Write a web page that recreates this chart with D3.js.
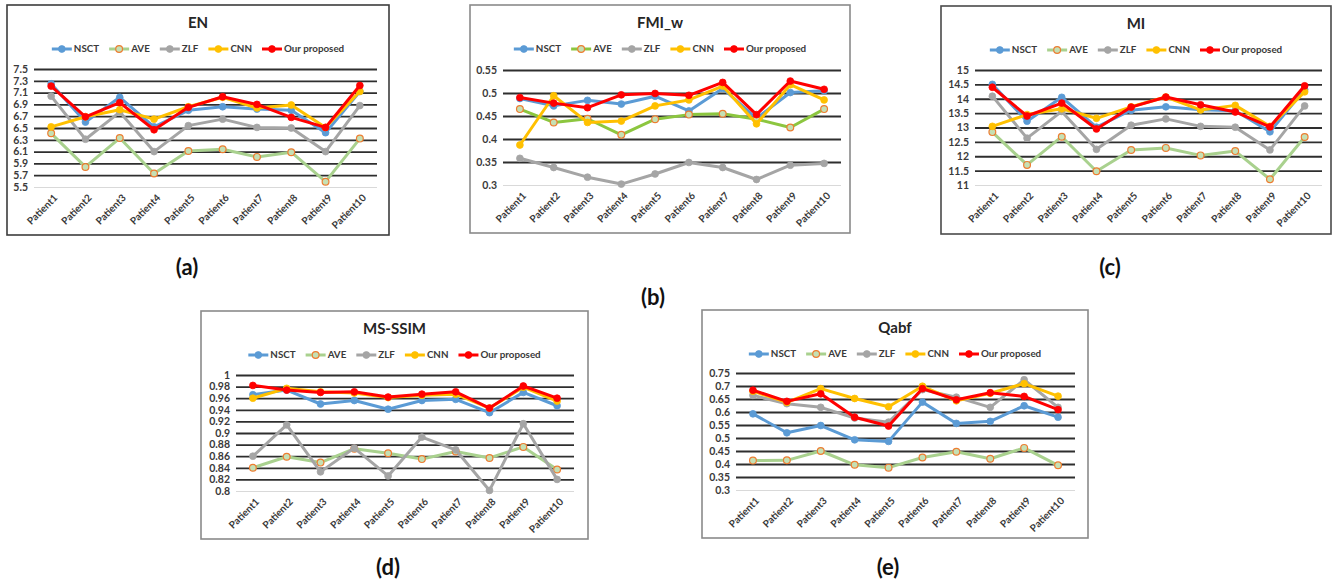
<!DOCTYPE html>
<html>
<head>
<meta charset="utf-8">
<script src="https://cdn.jsdelivr.net/npm/d3@7"></script>
<style>
  body { margin: 0; background: #fff; }
  svg text { font-family: Lato, "Open Sans", sans-serif; font-weight: 700; }
</style>
</head>
<body>
<svg id="chart" width="1339" height="583"></svg>
<script>
// categories and series names
var categories  = ["Patient1", "Patient2", "Patient3", "Patient4", "Patient5",
                   "Patient6", "Patient7", "Patient8", "Patient9", "Patient10"];
var seriesNames = ["NSCT", "AVE", "ZLF", "CNN", "Our proposed"];

// (a) EN
var enNSCT = [7.25, 6.60, 7.02, 6.52, 6.80, 6.86, 6.82, 6.80, 6.42, 7.12];
var enAVE  = [6.41, 5.84, 6.33, 5.73, 6.11, 6.14, 6.01, 6.09, 5.59, 6.32];
var enZLF  = [7.04, 6.31, 6.77, 6.10, 6.54, 6.65, 6.51, 6.50, 6.10, 6.88];
var enCNN  = [6.52, 6.69, 6.81, 6.65, 6.86, 7.02, 6.84, 6.89, 6.51, 7.12];
var enOurs = [7.21, 6.69, 6.93, 6.47, 6.85, 7.03, 6.90, 6.68, 6.51, 7.22];
var enTicks = [5.5, 5.7, 5.9, 6.1, 6.3, 6.5, 6.7, 6.9, 7.1, 7.3, 7.5];

// (b) FMI_w
var fmiNSCT = [0.488, 0.472, 0.484, 0.476, 0.493, 0.461, 0.510, 0.445, 0.501, 0.505];
var fmiAVE  = [0.465, 0.436, 0.444, 0.409, 0.443, 0.453, 0.455, 0.443, 0.425, 0.465];
var fmiZLF  = [0.358, 0.338, 0.317, 0.302, 0.324, 0.349, 0.338, 0.312, 0.343, 0.347];
var fmiCNN  = [0.387, 0.494, 0.436, 0.439, 0.472, 0.485, 0.515, 0.433, 0.518, 0.485];
var fmiOurs = [0.490, 0.478, 0.468, 0.496, 0.499, 0.495, 0.523, 0.453, 0.526, 0.508];
var fmiTicks = [0.3, 0.35, 0.4, 0.45, 0.5, 0.55];

// (c) MI
var miNSCT = [14.50, 13.22, 14.05, 13.01, 13.60, 13.72, 13.62, 13.58, 12.85, 14.32];
var miAVE  = [12.84, 11.70, 12.68, 11.48, 12.22, 12.29, 12.03, 12.18, 11.20, 12.67];
var miZLF  = [14.09, 12.63, 13.56, 12.24, 13.08, 13.30, 13.04, 13.01, 12.22, 13.75];
var miCNN  = [13.04, 13.45, 13.65, 13.32, 13.72, 14.06, 13.61, 13.77, 13.04, 14.24];
var miOurs = [14.40, 13.40, 13.85, 12.95, 13.71, 14.06, 13.79, 13.54, 13.02, 14.45];
var miTicks = [11, 11.5, 12, 12.5, 13, 13.5, 14, 14.5, 15];

// (d) MS-SSIM
var msNSCT = [0.966, 0.974, 0.950, 0.956, 0.941, 0.956, 0.958, 0.935, 0.970, 0.947];
var msAVE  = [0.840, 0.859, 0.849, 0.873, 0.865, 0.855, 0.868, 0.857, 0.876, 0.837];
var msZLF  = [0.860, 0.914, 0.833, 0.874, 0.826, 0.893, 0.871, 0.801, 0.916, 0.820];
var msCNN  = [0.960, 0.977, 0.971, 0.969, 0.961, 0.965, 0.967, 0.943, 0.979, 0.955];
var msOurs = [0.982, 0.974, 0.970, 0.971, 0.962, 0.967, 0.971, 0.943, 0.981, 0.960];
var msTicks = [0.8, 0.82, 0.84, 0.86, 0.88, 0.9, 0.92, 0.94, 0.96, 0.98, 1];

// (e) Qabf
var qNSCT = [0.593, 0.520, 0.548, 0.493, 0.487, 0.638, 0.556, 0.564, 0.624, 0.580];
var qAVE  = [0.413, 0.414, 0.450, 0.397, 0.386, 0.425, 0.447, 0.420, 0.462, 0.395];
var qZLF  = [0.664, 0.632, 0.618, 0.577, 0.561, 0.686, 0.657, 0.618, 0.724, 0.618];
var qCNN  = [0.680, 0.637, 0.690, 0.652, 0.620, 0.699, 0.643, 0.672, 0.709, 0.661];
var qOurs = [0.684, 0.641, 0.670, 0.580, 0.546, 0.690, 0.647, 0.674, 0.660, 0.609];
var qTicks = [0.3, 0.35, 0.4, 0.45, 0.5, 0.55, 0.6, 0.65, 0.7, 0.75];

// styles per series
var seriesStyle = {
  "NSCT":         {line: "#5B9BD5", fill: "#5B9BD5", ring: "#5B9BD5"},
  "AVE":          {line: "#A9D18E", fill: "#C5E0B4", ring: "#ED7D31"},
  "ZLF":          {line: "#A5A5A5", fill: "#A5A5A5", ring: "#A5A5A5"},
  "CNN":          {line: "#FFC000", fill: "#FFC000", ring: "#FFC000"},
  "Our proposed": {line: "#FF0000", fill: "#FF0000", ring: "#FF0000"}
};

// panel layout: box = [x0, y0, x1, y1], plot = [left, top, right, bottom]
var panels = [
  {title: "EN",      label: "(a)", series: [enNSCT, enAVE, enZLF, enCNN, enOurs],      ticks: enTicks,
   box: [7, 5, 389, 235],      plot: [34, 69, 377, 187],    labelPos: [187, 267], border: "#3c3c3c", aveLine: "#A9D18E"},
  {title: "FMI_w",   label: "(b)", series: [fmiNSCT, fmiAVE, fmiZLF, fmiCNN, fmiOurs], ticks: fmiTicks,
   box: [470, 5, 850, 233],    plot: [503, 70, 841, 185],   labelPos: [653, 297], border: "#8a8a8a", aveLine: "#8CC63F"},
  {title: "MI",      label: "(c)", series: [miNSCT, miAVE, miZLF, miCNN, miOurs],      ticks: miTicks,
   box: [941, 6, 1331, 234],   plot: [975, 70, 1322, 185],  labelPos: [1110, 267], border: "#4a4a4a", aveLine: "#A9D18E"},
  {title: "MS-SSIM", label: "(d)", series: [msNSCT, msAVE, msZLF, msCNN, msOurs],      ticks: msTicks,
   box: [201, 311, 588, 539],  plot: [236, 375, 574, 491],  labelPos: [388, 567], border: "#8a8a8a", aveLine: "#A9D18E"},
  {title: "Qabf",    label: "(e)", series: [qNSCT, qAVE, qZLF, qCNN, qOurs],           ticks: qTicks,
   box: [702, 310, 1088, 538], plot: [736, 373, 1075, 490], labelPos: [888, 567], border: "#8a8a8a", aveLine: "#A9D18E"}
];

var svg = d3.select("#chart");

function styleFor (name, panel) {
  var s = seriesStyle[name];
  if (name === "AVE") return {line: panel.aveLine, fill: s.fill, ring: s.ring};
  return s;
}

panels.forEach(function (p) {
  var g = svg.append("g");
  var left = p.plot[0], top = p.plot[1], right = p.plot[2], bottom = p.plot[3];

  g.append("rect")
    .attr("x", p.box[0]).attr("y", p.box[1])
    .attr("width", p.box[2] - p.box[0]).attr("height", p.box[3] - p.box[1])
    .attr("fill", "#fff").attr("stroke", p.border).attr("stroke-width", 1.6);

  var x = d3.scalePoint().domain(categories).range([left, right]).padding(0.5);
  var y = d3.scaleLinear().domain([p.ticks[0], p.ticks[p.ticks.length - 1]]).range([bottom, top]);

  // y axis with gridlines
  var yAxis = g.append("g")
    .attr("transform", "translate(" + left + ",0)")
    .call(d3.axisLeft(y).tickValues(p.ticks).tickSizeInner(-(right - left)).tickSizeOuter(0)
      .tickPadding(6).tickFormat(function (d) { return String(d); }));
  yAxis.select(".domain").remove();
  yAxis.selectAll(".tick line")
    .attr("stroke", function (d, i) { return i === 0 ? "#d9d9d9" : "#2e2e2e"; })
    .attr("stroke-width", function (d, i) { return i === 0 ? 1 : 1.8; });
  yAxis.selectAll(".tick text").attr("fill", "#3a3a3a").style("font-size", "10.5px");

  // x axis, rotated labels
  var xAxis = g.append("g")
    .attr("transform", "translate(0," + bottom + ")")
    .call(d3.axisBottom(x).tickSize(0).tickPadding(0));
  xAxis.select(".domain").remove();
  xAxis.selectAll(".tick text")
    .attr("y", 0).attr("dy", "0.35em")
    .attr("text-anchor", "end")
    .attr("transform", "translate(4,9) rotate(-45)")
    .attr("fill", "#3a3a3a").style("font-size", "10px");

  // series
  var line = d3.line()
    .x(function (d, i) { return x(categories[i]); })
    .y(function (d) { return y(d); });

  seriesNames.forEach(function (name, k) {
    var st = styleFor(name, p);
    var sg = g.append("g");
    sg.append("path")
      .datum(p.series[k])
      .attr("d", line)
      .attr("fill", "none")
      .attr("stroke", st.line)
      .attr("stroke-width", 3)
      .attr("stroke-linejoin", "round");
    sg.selectAll("circle")
      .data(p.series[k])
      .enter().append("circle")
      .attr("cx", function (d, i) { return x(categories[i]); })
      .attr("cy", function (d) { return y(d); })
      .attr("r", 3.4)
      .attr("fill", st.fill)
      .attr("stroke", st.ring)
      .attr("stroke-width", name === "AVE" ? 1.2 : 0.8);
  });

  var cx = (p.box[0] + p.box[2]) / 2;

  // title
  g.append("text")
    .attr("x", cx).attr("y", p.box[1] + 18)
    .attr("dy", "0.35em")
    .attr("text-anchor", "middle")
    .attr("fill", "#262626")
    .style("font-size", "15px")
    .text(p.title);

  // legend
  var lg = g.append("g");
  var pos = 0;
  seriesNames.forEach(function (name) {
    var st = styleFor(name, p);
    var item = lg.append("g").attr("transform", "translate(" + pos + ",0)");
    item.append("line")
      .attr("x1", 0).attr("x2", 20).attr("y1", 0).attr("y2", 0)
      .attr("stroke", st.line).attr("stroke-width", 3);
    item.append("circle")
      .attr("cx", 10).attr("cy", 0).attr("r", 3.4)
      .attr("fill", st.fill).attr("stroke", st.ring)
      .attr("stroke-width", name === "AVE" ? 1.2 : 0.8);
    var t = item.append("text")
      .attr("x", 22).attr("y", 0).attr("dy", "0.35em")
      .attr("fill", "#3a3a3a")
      .style("font-size", "9.8px")
      .text(name);
    pos += 22 + t.node().getComputedTextLength() + 10;
  });
  var legendWidth = pos - 10;
  lg.attr("transform", "translate(" + (cx - legendWidth / 2) + "," + (p.box[1] + 44) + ")");

  // panel label
  svg.append("text")
    .attr("x", p.labelPos[0]).attr("y", p.labelPos[1])
    .attr("dy", "0.35em")
    .attr("text-anchor", "middle")
    .attr("fill", "#111")
    .style("font-size", "22px")
    .text(p.label);
});
</script>
</body>
</html>
